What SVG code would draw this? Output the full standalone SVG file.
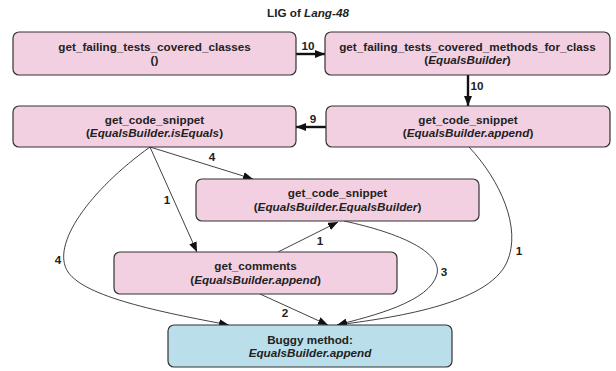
<svg xmlns="http://www.w3.org/2000/svg" width="616" height="371" viewBox="0 0 616 371">
<defs>
<style>
text{font-family:"Liberation Sans",Arial,sans-serif;font-size:11.7px;font-weight:bold;fill:#222;text-anchor:middle}
.it{font-style:italic}
.box{fill:#f2d0e2;stroke:#333;stroke-width:1.2}
.bug{fill:#badfeb;stroke:#333;stroke-width:1.2}
.e{fill:none;stroke:#111;stroke-width:0.8}
.t{fill:none;stroke:#111;stroke-width:2.4}
</style>
<marker id="ah" markerUnits="userSpaceOnUse" markerWidth="10" markerHeight="8" refX="10" refY="4" orient="auto">
<path d="M0,0 L10,4 L0,8 z" fill="#111"/>
</marker>
</defs>
<rect width="616" height="371" fill="#fff"/>
<text x="308" y="17">LIG of <tspan class="it">Lang-48</tspan></text>

<g id="connectors">
<line class="t" x1="296" y1="54" x2="325" y2="54" marker-end="url(#ah)"/>
<text x="308" y="50">10</text>
<line class="t" x1="468" y1="75" x2="468" y2="106" marker-end="url(#ah)"/>
<text x="477" y="90">10</text>
<line class="t" x1="326" y1="127" x2="296" y2="127" marker-end="url(#ah)"/>
<text x="313" y="123">9</text>
<line class="e" x1="150" y1="147" x2="253" y2="179" marker-end="url(#ah)"/>
<text x="212" y="161">4</text>
<line class="e" x1="150" y1="147" x2="197" y2="252" marker-end="url(#ah)"/>
<text x="167" y="204">1</text>
<path class="e" d="M150,147 C90,190 50,245 68,272 C85,297 160,312 229,325" marker-end="url(#ah)"/>
<text x="58" y="264">4</text>
<path class="e" d="M469,147 C500,180 522,228 507,262 C488,305 390,318 337,325" marker-end="url(#ah)"/>
<text x="519" y="255">1</text>
<line class="e" x1="278" y1="252" x2="338" y2="222" marker-end="url(#ah)"/>
<text x="320" y="245">1</text>
<path class="e" d="M344,221 C400,233 442,252 437,274 C430,302 372,316 337,325" marker-end="url(#ah)"/>
<text x="444" y="276">3</text>
<line class="e" x1="260" y1="294" x2="328" y2="325" marker-end="url(#ah)"/>
<text x="285" y="317">2</text>
</g>

<g id="n1">
<rect class="box" x="13" y="32" width="283" height="43" rx="6"/>
<text x="154.5" y="51">get_failing_tests_covered_classes</text>
<text x="154.5" y="64">()</text>
</g>
<g id="n2">
<rect class="box" x="325" y="32" width="285" height="43" rx="6"/>
<text x="467.5" y="51">get_failing_tests_covered_methods_for_class</text>
<text x="467.5" y="64">(<tspan class="it">EqualsBuilder</tspan>)</text>
</g>
<g id="n3">
<rect class="box" x="13" y="106" width="283" height="41" rx="6"/>
<text x="154.5" y="124">get_code_snippet</text>
<text x="154.5" y="137">(<tspan class="it">EqualsBuilder.isEquals</tspan>)</text>
</g>
<g id="n4">
<rect class="box" x="326" y="106" width="284" height="41" rx="6"/>
<text x="468" y="124">get_code_snippet</text>
<text x="468" y="137">(<tspan class="it">EqualsBuilder.append</tspan>)</text>
</g>
<g id="n5">
<rect class="box" x="196" y="179" width="283" height="42" rx="6"/>
<text x="337.5" y="197">get_code_snippet</text>
<text x="337.5" y="211">(<tspan class="it">EqualsBuilder.EqualsBuilder</tspan>)</text>
</g>
<g id="n6">
<rect class="box" x="114" y="252" width="283" height="42" rx="6"/>
<text x="255.5" y="270">get_comments</text>
<text x="255.5" y="284">(<tspan class="it">EqualsBuilder.append</tspan>)</text>
</g>
<g id="n7">
<rect class="bug" x="168" y="325" width="284" height="42" rx="6"/>
<text x="310" y="344">Buggy method:</text>
<text x="310" y="357" class="it">EqualsBuilder.append</text>
</g>
</svg>
